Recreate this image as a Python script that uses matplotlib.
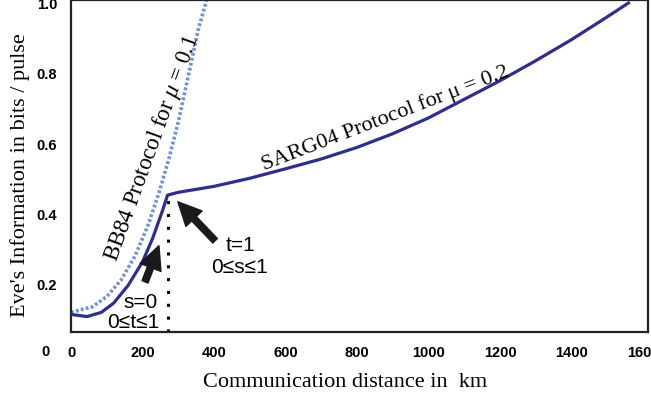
import matplotlib
matplotlib.use("Agg")
import matplotlib.pyplot as plt

# SARG04 (mu = 0.2), solid curve
sarg_x = [0, 45, 85, 120, 160, 200, 228, 255, 270, 300, 400, 500, 600, 700, 800,
          900, 1000, 1100, 1200, 1300, 1400, 1500, 1560]
sarg_y = [0.112, 0.106, 0.118, 0.145, 0.195, 0.262, 0.328, 0.405, 0.452, 0.460,
          0.477, 0.500, 0.527, 0.555, 0.588, 0.627, 0.672, 0.725, 0.778, 0.835,
          0.895, 0.960, 1.000]

# BB84 (mu = 0.1), dotted curve
bb84_x = [0, 60, 100, 140, 180, 215, 245, 275, 300, 330, 355, 380]
bb84_y = [0.118, 0.134, 0.163, 0.210, 0.280, 0.365, 0.455, 0.560, 0.660, 0.800,
          0.920, 1.010]

kink_x = 270
kink_y = 0.452

xticks = [0, 200, 400, 600, 800, 1000, 1200, 1400, 1600]
yticks = [0.2, 0.4, 0.6, 0.8, 1.0]
ytick_labels = ["0.2", "0.4", "0.6", "0.8", "1.0"]

sans = ["Liberation Sans", "DejaVu Sans"]
serif = ["Liberation Serif", "DejaVu Serif"]
plt.rcParams["mathtext.fontset"] = "custom"
plt.rcParams["mathtext.rm"] = "Liberation Serif"
plt.rcParams["mathtext.it"] = "Liberation Serif:italic"

fig = plt.figure(figsize=(6.51, 4.06), dpi=100)
ax = fig.add_axes([71 / 651, 73 / 406, 577 / 651, 332 / 406])

ax.plot(sarg_x, sarg_y, color="#2e2e8e", lw=2.3, solid_capstyle="round", zorder=3)
ax.plot(bb84_x, bb84_y, color="#7193d9", lw=2.6, linestyle=(0, (0.8, 0.6)), zorder=2)
ax.plot([kink_x, kink_x], [0.062, kink_y], color="black", lw=2.2,
        linestyle=(0, (1, 3.2)), zorder=2)

ax.set_xlim(0, 1614)
ax.set_ylim(0.062, 1.008)
ax.set_xticks(xticks)
ax.set_xticklabels([str(v) for v in xticks], family=sans, fontweight="bold", fontsize=10.5)
ax.set_yticks(yticks)
ax.set_yticklabels(ytick_labels, family=sans, fontweight="bold", fontsize=10.5)
ax.tick_params(length=0)
ax.tick_params(axis="y", pad=10)
ax.tick_params(axis="x", pad=9.5)
fig.text(45 / 651, 1 - 352 / 406, "0", family=sans, fontweight="bold", fontsize=10.5,
         ha="center", va="center")

for s in ax.spines.values():
    s.set_linewidth(1.6)
    s.set_color("#222222")

fig.text(0.5 * (205 + 485) / 651, 1 - 383 / 406, "Communication distance in  km",
         family=serif, fontsize=16, ha="center", va="center")
fig.text(20 / 651, 1 - 175 / 406, "Eve's Information in bits / pulse",
         family=serif, fontsize=16, rotation=90, ha="center", va="center")

ax.text(226, 0.590, "BB84 Protocol for $\\mathit{\\mu}$ = $\\mathit{0.1}$", family=serif,
        fontsize=16.5, rotation=70, rotation_mode="anchor", ha="center", va="center")
ax.text(878, 0.672, "SARG04 Protocol for μ = 0.2", family=serif, fontsize=16,
        rotation=21, rotation_mode="anchor", ha="center", va="center")

arrow = dict(arrowstyle="simple,head_length=1.2,head_width=1.15,tail_width=0.33",
             color="#1a1a1a", mutation_scale=14, shrinkA=0, shrinkB=0)
ax.annotate("", xy=(299, 0.433), xytext=(403, 0.322), arrowprops=arrow)
ax.annotate("", xy=(246, 0.308), xytext=(207, 0.205), arrowprops=arrow)

ax.text(475, 0.310, "t=1", family=sans, fontsize=15, ha="center", va="center")
ax.text(470, 0.248, "0≤s≤1", family=sans, fontsize=15, ha="center", va="center")
ax.text(195, 0.148, "s=0", family=sans, fontsize=15, ha="center", va="center")
ax.text(173, 0.092, "0≤t≤1", family=sans, fontsize=15, ha="center", va="center")

fig.savefig("out.png", dpi=100)
